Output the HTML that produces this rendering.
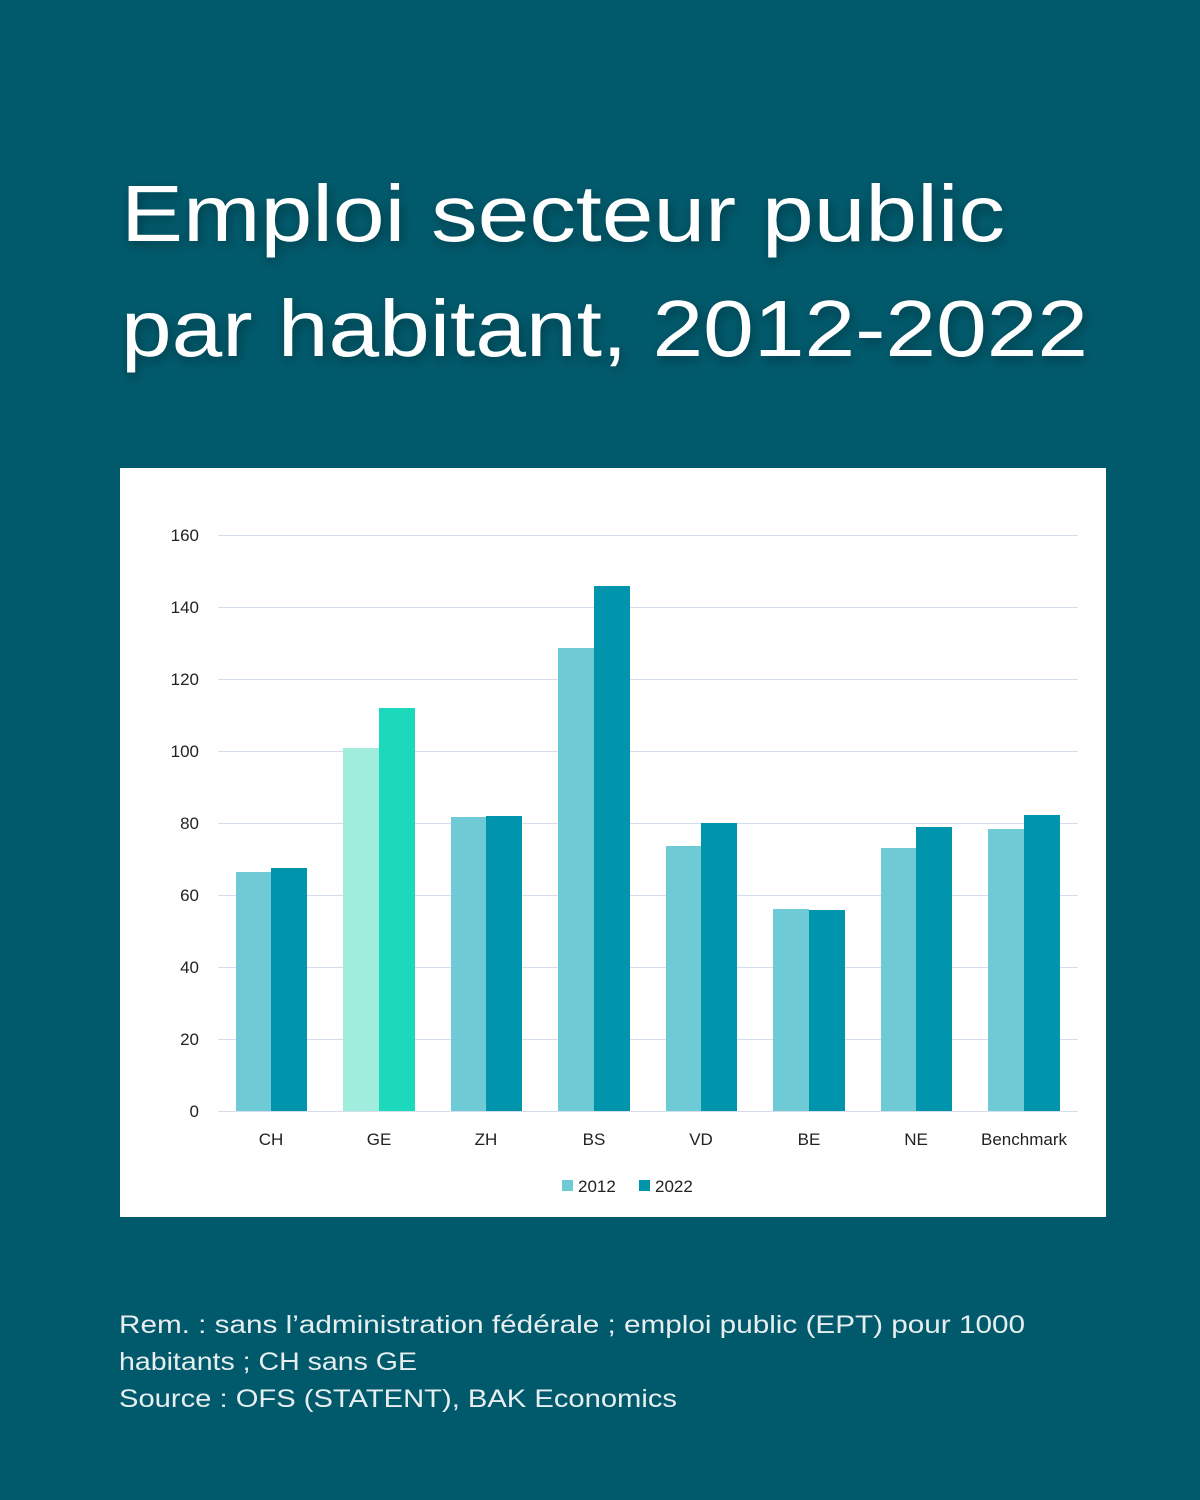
<!DOCTYPE html>
<html><head><meta charset="utf-8"><style>
html,body{margin:0;padding:0;background:#015a6c;}
svg{display:block}
</style></head><body>
<svg width="1200" height="1500" viewBox="0 0 1200 1500" xmlns="http://www.w3.org/2000/svg" font-family="Liberation Sans, sans-serif">
<defs><filter id="sh" x="-10%" y="-30%" width="120%" height="160%"><feGaussianBlur in="SourceAlpha" stdDeviation="6"/><feOffset dx="2" dy="4"/><feComponentTransfer><feFuncA type="linear" slope="0.35"/></feComponentTransfer><feMerge><feMergeNode/><feMergeNode in="SourceGraphic"/></feMerge></filter></defs>
<rect width="1200" height="1500" fill="#015a6c"/>
<g fill="#ffffff" font-size="80" filter="url(#sh)">
<text x="121" y="241" textLength="884" lengthAdjust="spacingAndGlyphs">Emploi secteur public</text>
<text x="121" y="356" textLength="967" lengthAdjust="spacingAndGlyphs">par habitant, 2012-2022</text>
</g>
<rect x="120" y="468" width="986" height="749" fill="#ffffff"/>
<g stroke="#d5dcec" stroke-width="1">
<line x1="218" x2="1078" y1="535.5" y2="535.5"/><line x1="218" x2="1078" y1="607.5" y2="607.5"/>
<line x1="218" x2="1078" y1="679.5" y2="679.5"/><line x1="218" x2="1078" y1="751.5" y2="751.5"/>
<line x1="218" x2="1078" y1="823.5" y2="823.5"/><line x1="218" x2="1078" y1="895.5" y2="895.5"/>
<line x1="218" x2="1078" y1="967.5" y2="967.5"/><line x1="218" x2="1078" y1="1039.5" y2="1039.5"/>
<line x1="218" x2="1078" y1="1111.5" y2="1111.5"/>
</g>
<g font-size="17" fill="#222" text-anchor="end">
<text x="199" y="541">160</text><text x="199" y="613">140</text><text x="199" y="685">120</text>
<text x="199" y="757">100</text><text x="199" y="829">80</text><text x="199" y="901">60</text>
<text x="199" y="973">40</text><text x="199" y="1045">20</text><text x="199" y="1117">0</text>
</g>
<g>
<rect x="236" y="872" width="35" height="239" fill="#6ecad4"/><rect x="271" y="868" width="36" height="243" fill="#0095ad"/>
<rect x="343" y="748" width="36" height="363" fill="#a0ecdd"/><rect x="379" y="708" width="36" height="403" fill="#1dd9bc"/>
<rect x="451" y="817" width="35" height="294" fill="#6ecad4"/><rect x="486" y="816" width="36" height="295" fill="#0095ad"/>
<rect x="558" y="648" width="36" height="463" fill="#6ecad4"/><rect x="594" y="586" width="36" height="525" fill="#0095ad"/>
<rect x="666" y="846" width="35" height="265" fill="#6ecad4"/><rect x="701" y="823" width="36" height="288" fill="#0095ad"/>
<rect x="773" y="909" width="36" height="202" fill="#6ecad4"/><rect x="809" y="910" width="36" height="201" fill="#0095ad"/>
<rect x="881" y="848" width="35" height="263" fill="#6ecad4"/><rect x="916" y="827" width="36" height="284" fill="#0095ad"/>
<rect x="988" y="829" width="36" height="282" fill="#6ecad4"/><rect x="1024" y="815" width="36" height="296" fill="#0095ad"/>
</g>
<g font-size="17" fill="#222" text-anchor="middle">
<text x="271" y="1145">CH</text><text x="379" y="1145">GE</text><text x="486" y="1145">ZH</text>
<text x="594" y="1145">BS</text><text x="701" y="1145">VD</text><text x="809" y="1145">BE</text>
<text x="916" y="1145">NE</text><text x="1024" y="1145">Benchmark</text>
</g>
<rect x="562" y="1180" width="11" height="11" fill="#6ecad4"/>
<text x="578" y="1192" font-size="17" fill="#222">2012</text>
<rect x="639" y="1180" width="11" height="11" fill="#0095ad"/>
<text x="655" y="1192" font-size="17" fill="#222">2022</text>
<g font-size="25" fill="#e6eef0">
<text x="119" y="1333" textLength="906" lengthAdjust="spacingAndGlyphs">Rem. : sans l’administration fédérale ; emploi public (EPT) pour 1000</text>
<text x="119" y="1370" textLength="298" lengthAdjust="spacingAndGlyphs">habitants ; CH sans GE</text>
<text x="119" y="1407" textLength="558" lengthAdjust="spacingAndGlyphs">Source : OFS (STATENT), BAK Economics</text>
</g>
</svg>
</body></html>
